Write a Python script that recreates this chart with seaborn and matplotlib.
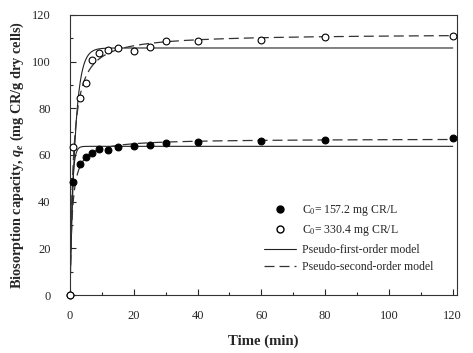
import numpy as np
import pandas as pd
import matplotlib
matplotlib.use("Agg")
import matplotlib.pyplot as plt
from matplotlib.ticker import MultipleLocator
from matplotlib.lines import Line2D
import seaborn as sns

time_low = [0, 1, 3, 5, 7, 9, 12, 15, 20, 25, 30, 40, 60, 80, 120]
q_low = [0, 48.3, 56.3, 59.2, 61.0, 62.7, 62.3, 63.4, 63.7, 64.1, 65.0, 65.5, 65.9, 66.5, 67.2]
time_high = [0, 1, 3, 5, 7, 9, 12, 15, 20, 25, 30, 40, 60, 80, 120]
q_high = [0, 63.2, 84.6, 91.0, 100.6, 103.8, 105.0, 106.0, 104.5, 106.4, 108.7, 109.0, 109.2, 110.4, 111.0]

# fitted model parameters [low, high]
qe_first = [63.7, 105.8]
k_first = [1.6, 0.62]
qe_second = [67.0, 112.0]
k_second = [0.022, 0.0091]

sns.set_style("ticks")
plt.rcParams["font.family"] = ["Liberation Serif", "DejaVu Serif"]
plt.rcParams["mathtext.fontset"] = "custom"
plt.rcParams["mathtext.rm"] = "Liberation Serif"
plt.rcParams["mathtext.it"] = "Liberation Serif:italic:bold"
plt.rcParams["mathtext.bf"] = "Liberation Serif:bold"

fig = plt.figure(figsize=(4.73, 3.53), dpi=100)
ax = fig.add_axes([0.148, 0.164, 0.818, 0.794])

t = np.linspace(0, 120, 1200)
for qe, k in zip(qe_first, k_first):
    sns.lineplot(x=t, y=qe * (1 - np.exp(-k * t)), ax=ax, color="#222222", lw=0.8)
for qe, k in zip(qe_second, k_second):
    sns.lineplot(x=t, y=qe**2 * k * t / (1 + qe * k * t), ax=ax, color="#333333",
                 lw=0.9, linestyle=(0, (8, 4)))

sns.scatterplot(x=time_low, y=q_low, ax=ax, color="black", edgecolor="black",
                s=24, linewidth=0.8, zorder=3, clip_on=False)
sns.scatterplot(x=time_high, y=q_high, ax=ax, color="white", edgecolor="black",
                s=24, linewidth=0.8, zorder=4, clip_on=False)

ax.set_xlim(0, 121.3)
ax.set_ylim(0, 120)
ax.xaxis.set_major_locator(MultipleLocator(20))
ax.xaxis.set_minor_locator(MultipleLocator(10))
ax.yaxis.set_major_locator(MultipleLocator(20))
ax.yaxis.set_minor_locator(MultipleLocator(10))
ax.tick_params(which="both", direction="in", labelsize=9, width=0.8)
ax.tick_params(axis="x", pad=11)
ax.tick_params(axis="y", pad=14)
ax.tick_params(which="major", length=4)
ax.tick_params(which="minor", length=2.5)
for sp in ax.spines.values():
    sp.set_linewidth(0.8)
    sp.set_color("#333333")

ax.set_xlabel("Time (min)", fontsize=10.6, fontweight="bold", labelpad=9)
ax.set_ylabel("Biosorption capacity, $q_e$ (mg CR/g dry cells)", fontsize=10.3,
              fontweight="bold", labelpad=4)

handles = [
    Line2D([], [], marker="o", color="black", mfc="black", ls="none", ms=5),
    Line2D([], [], marker="o", color="black", mfc="white", ls="none", ms=5),
    Line2D([], [], color="#222222", lw=0.8),
    Line2D([], [], color="#333333", lw=0.9, ls=(0, (8, 4))),
]
labels = ["C$_0$= 157.2 mg CR/L", "C$_0$= 330.4 mg CR/L",
          "Pseudo-first-order model", "Pseudo-second-order model"]
ax.legend(handles, labels, loc="upper left", bbox_to_anchor=(0.49, 0.345),
          frameon=False, fontsize=8.5, handlelength=2.7, labelspacing=0.45,
          handletextpad=0.5, borderaxespad=0)

fig.savefig("out.png", dpi=100)
